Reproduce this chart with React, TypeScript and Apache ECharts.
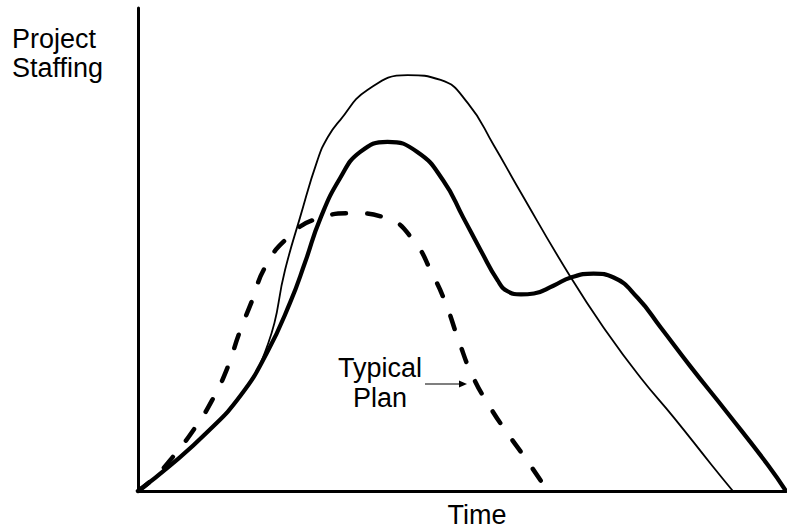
import React, { useEffect, useRef } from "react";
import * as echarts from "echarts";

// Heavy curve (actual staffing)
const actualTime = [0, 4.9, 10.7, 15.8, 19.9, 23.5, 25.8, 28.1, 31.2, 34.3, 38.5, 43.1, 47.1, 50.2, 52.9, 55.5, 57.1, 59.1, 61.1, 64.1, 66.8, 70.3, 73.4, 77.1, 80.7, 85.3, 91.0, 97.2, 100];
const actualStaffing = [0, 5.2, 12.2, 19.7, 28.6, 39.1, 47.4, 56.3, 64.8, 70.2, 72.3, 70.2, 64.3, 56.6, 49.8, 43.6, 41.3, 40.7, 40.9, 42.5, 44.2, 45.0, 44.2, 40.0, 33.8, 25.7, 16.1, 5.4, 0];

// Thin curve
const thinTime = [0, 4.9, 10.7, 15.8, 20.1, 22.7, 25.0, 27.7, 29.3, 31.2, 35.4, 41.6, 46.7, 50.9, 54.9, 58.6, 66.8, 72.5, 77.6, 82.7, 88.4, 91.8];
const thinStaffing = [0, 5.2, 12.2, 19.7, 30.6, 45.8, 56.6, 68.5, 73.3, 76.8, 83.0, 86.1, 85.1, 80.3, 71.6, 62.9, 44.2, 32.6, 23.4, 15.2, 5.6, 0];

// Dashed curve (typical plan)
const planTime = [0, 2.3, 5.4, 8.8, 11.4, 13.8, 15.6, 17.6, 19.6, 23.0, 27.7, 33.2, 38.5, 42.5, 45.4, 47.5, 49.5, 51.6, 54.4, 57.0, 60.3, 63.2];
const planStaffing = [0, 2.5, 7.1, 13.1, 18.7, 25.5, 32.6, 39.4, 46.3, 52.3, 56.4, 57.5, 56.4, 51.9, 45.0, 38.8, 31.1, 23.9, 17.2, 12.0, 5.8, 0];

const yTitle = ["Project", "Staffing"];
const xTitle = "Time";
const planLabel = ["Typical", "Plan"];

const FONT = "27px 'Liberation Sans', Arial, Helvetica, sans-serif";

function pairs(xs: number[], ys: number[]) {
  return xs.map((x, i) => [x, ys[i]]);
}

function txt(text: string, x: number, y: number, align: string) {
  return {
    type: "text",
    x,
    y,
    silent: true,
    style: {
      text,
      fill: "#000",
      font: FONT,
      textAlign: align,
      align,
      textVerticalAlign: "middle",
      verticalAlign: "middle",
    },
  };
}

export default function App() {
  const ref = useRef<HTMLDivElement>(null);
  useEffect(() => {
    if (!ref.current) return;
    document.body.style.margin = "0";
    const chart = echarts.init(ref.current, undefined, { renderer: "svg" });
    chart.setOption({
      animation: false,
      backgroundColor: "#fff",
      grid: { left: 138, right: 1, top: 8, bottom: 39 },
      xAxis: {
        type: "value",
        min: 0,
        max: 100,
        axisLine: { show: true, lineStyle: { color: "#000", width: 3 } },
        axisTick: { show: false },
        axisLabel: { show: false },
        splitLine: { show: false },
      },
      yAxis: {
        type: "value",
        min: 0,
        max: 100,
        axisLine: { show: true, onZero: false, lineStyle: { color: "#000", width: 3 } },
        axisTick: { show: false },
        axisLabel: { show: false },
        splitLine: { show: false },
      },
      series: [
        {
          type: "line",
          name: "Thin",
          data: pairs(thinTime, thinStaffing),
          smooth: 0.5,
          symbol: "none",
          clip: false,
          lineStyle: { color: "#000", width: 1.8 },
        },
        {
          type: "line",
          name: "Actual",
          data: pairs(actualTime, actualStaffing),
          smooth: 0.5,
          symbol: "none",
          clip: false,
          lineStyle: { color: "#000", width: 4.2 },
        },
        {
          type: "line",
          name: "Typical Plan",
          data: pairs(planTime, planStaffing),
          smooth: 0.5,
          symbol: "none",
          clip: false,
          lineStyle: { color: "#000", width: 4.5, type: [14, 21], cap: "round" },
        },
      ],
      graphic: [
        txt(yTitle[0], 12, 39, "left"),
        txt(yTitle[1], 12, 68, "left"),
        txt(xTitle, 477, 515, "center"),
        txt(planLabel[0], 380, 368, "center"),
        txt(planLabel[1], 380, 398, "center"),
        {
          type: "line",
          silent: true,
          shape: { x1: 425, y1: 384, x2: 462, y2: 384 },
          style: { stroke: "#000", lineWidth: 1.2 },
        },
        {
          type: "polygon",
          silent: true,
          shape: { points: [[467, 384], [459, 380.5], [459, 387.5]] },
          style: { fill: "#000" },
        },
      ],
    });
    return () => chart.dispose();
  }, []);
  return <div ref={ref} style={{ width: 787, height: 530 }} />;
}
